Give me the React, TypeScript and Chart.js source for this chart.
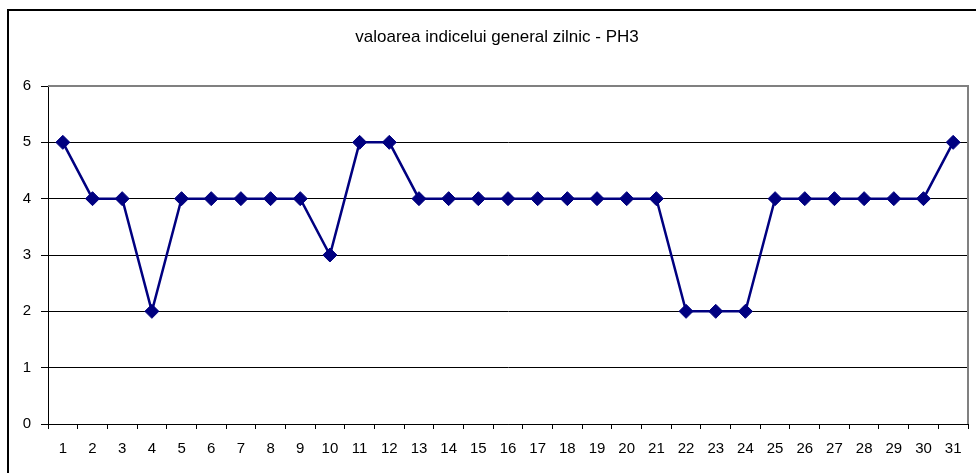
import React, { useEffect, useRef } from "react";
import { Chart, registerables } from "chart.js";

Chart.register(...registerables);

const TITLE = "valoarea indicelui general zilnic - PH3";
const days = Array.from({ length: 31 }, (_, i) => String(i + 1));
const values = [5, 4, 4, 2, 4, 4, 4, 4, 4, 3, 5, 5, 4, 4, 4, 4, 4, 4, 4, 4, 4, 2, 2, 2, 4, 4, 4, 4, 4, 4, 5];
const yTicks = [0, 1, 2, 3, 4, 5, 6];

const FONT = "'Liberation Sans', Arial, sans-serif";

const framePlugin = {
  id: "frame",
  beforeDraw(chart: any) {
    const ctx = chart.ctx;
    ctx.save();
    ctx.fillStyle = "#fff";
    ctx.fillRect(0, 0, chart.width, chart.height);
    ctx.strokeStyle = "#000";
    ctx.lineWidth = 2;
    ctx.beginPath();
    ctx.moveTo(8, chart.height + 5);
    ctx.lineTo(8, 10);
    ctx.lineTo(chart.width + 5, 10);
    ctx.stroke();
    ctx.restore();
  },
  afterDraw(chart: any) {
    const ctx = chart.ctx;
    ctx.save();
    ctx.fillStyle = "#000";
    ctx.font = `17px ${FONT}`;
    ctx.textAlign = "center";
    ctx.textBaseline = "alphabetic";
    ctx.fillText(TITLE, 497, 41.5);
    ctx.restore();
  },
  beforeDatasetsDraw(chart: any) {
    const ctx = chart.ctx;
    const a = chart.chartArea;
    ctx.save();
    ctx.strokeStyle = "#808080";
    ctx.lineWidth = 2;
    ctx.beginPath();
    ctx.moveTo(a.left, a.top);
    ctx.lineTo(a.right, a.top);
    ctx.lineTo(a.right, a.bottom);
    ctx.stroke();
    ctx.restore();
  },
};

export default function App() {
  const ref = useRef<HTMLCanvasElement>(null);
  useEffect(() => {
    document.body.style.margin = "0";
    const chart = new Chart(ref.current!, {
      type: "line",
      data: {
        labels: days,
        datasets: [
          {
            data: values,
            borderColor: "#000080",
            backgroundColor: "#000080",
            borderWidth: 2.5,
            pointStyle: "rectRot",
            pointRadius: 7,
            pointBorderWidth: 1,
            pointBackgroundColor: "#000080",
            pointBorderColor: "#000080",
            tension: 0,
            clip: false as any,
          },
        ],
      },
      options: {
        animation: false,
        responsive: false,
        maintainAspectRatio: false,
        devicePixelRatio: 1,
        layout: { padding: { left: 0, top: 86, right: 4, bottom: 0 } },
        plugins: { legend: { display: false }, title: { display: false }, tooltip: { enabled: false } },
        scales: {
          x: {
            type: "category",
            offset: true,
            grid: {
              offset: true,
              drawOnChartArea: false,
              drawTicks: true,
              tickLength: 5,
              color: "#000",
            },
            border: { display: true, color: "#000", width: 1 },
            ticks: {
              color: "#000",
              font: { family: FONT, size: 15 },
              padding: 11,
              maxRotation: 0,
              autoSkip: false,
            },
            afterFit(s: any) {
              s.height = 49;
            },
          },
          y: {
            min: 0,
            max: 6,
            afterBuildTicks(s: any) {
              s.ticks = yTicks.map((v) => ({ value: v }));
            },
            grid: {
              color: (c: any) => (c.tick && c.tick.value === 6 ? "#808080" : "#000"),
              tickLength: 7,
              tickColor: "#000",
            },
            border: { display: true, color: "#000", width: 1 },
            ticks: {
              color: "#000",
              font: { family: FONT, size: 15 },
              padding: 10,
              stepSize: 1,
            },
            afterFit(s: any) {
              s.width = 48;
            },
          },
        },
      },
      plugins: [framePlugin],
    });
    return () => chart.destroy();
  }, []);
  return <canvas ref={ref} width={976} height={473} style={{ display: "block" }} />;
}
